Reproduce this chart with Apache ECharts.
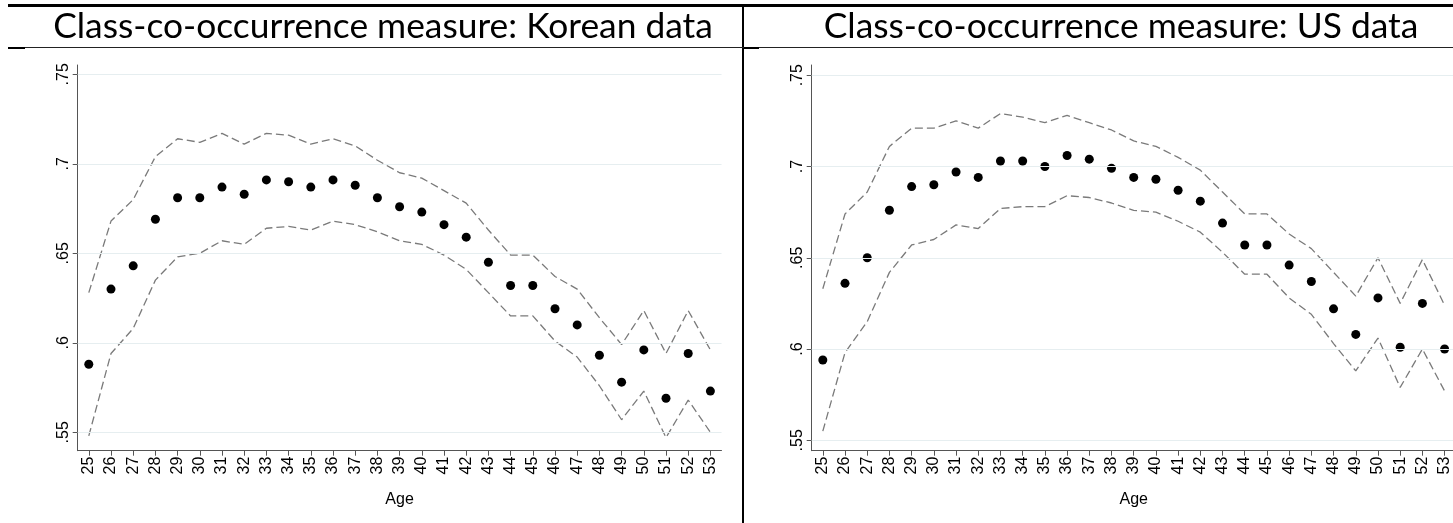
<!DOCTYPE html>
<html>
<head>
<meta charset="utf-8">
<script src="https://cdn.jsdelivr.net/npm/echarts@6/dist/echarts.min.js"></script>
<style>
html,body{margin:0;padding:0;background:#fff;}
#chart{width:1453px;height:523px;}
</style>
</head>
<body>
<div id="chart"></div>
<script>
// ---- data ----
const ages = ['25','26','27','28','29','30','31','32','33','34','35','36','37','38','39','40','41','42','43','44','45','46','47','48','49','50','51','52','53'];

const krEst   = [0.588,0.630,0.643,0.669,0.681,0.681,0.687,0.683,0.691,0.690,0.687,0.691,0.688,0.681,0.676,0.673,0.666,0.659,0.645,0.632,0.632,0.619,0.610,0.593,0.578,0.596,0.569,0.594,0.573];
const krUpper = [0.628,0.668,0.680,0.704,0.714,0.712,0.717,0.711,0.717,0.716,0.711,0.714,0.710,0.702,0.695,0.692,0.685,0.678,0.663,0.649,0.649,0.637,0.630,0.614,0.599,0.618,0.594,0.618,0.596];
const krLower = [0.548,0.594,0.608,0.635,0.648,0.650,0.657,0.655,0.664,0.665,0.663,0.668,0.666,0.662,0.657,0.655,0.649,0.641,0.628,0.615,0.615,0.601,0.592,0.576,0.557,0.573,0.547,0.568,0.550];

const usEst   = [0.594,0.636,0.650,0.676,0.689,0.690,0.697,0.694,0.703,0.703,0.700,0.706,0.704,0.699,0.694,0.693,0.687,0.681,0.669,0.657,0.657,0.646,0.637,0.622,0.608,0.628,0.601,0.625,0.600];
const usUpper = [0.633,0.674,0.686,0.711,0.721,0.721,0.725,0.721,0.729,0.727,0.724,0.728,0.724,0.720,0.714,0.711,0.705,0.698,0.686,0.674,0.674,0.663,0.655,0.642,0.629,0.650,0.625,0.649,0.624];
const usLower = [0.555,0.598,0.615,0.642,0.657,0.660,0.668,0.666,0.677,0.678,0.678,0.684,0.683,0.680,0.676,0.675,0.670,0.664,0.653,0.641,0.641,0.628,0.619,0.603,0.588,0.606,0.579,0.600,0.577];

const yTicks = [0.55,0.60,0.65,0.70,0.75];
const yTickLabels = ['.55','.6','.65','.7','.75'];

const titleLeft = 'Class-co-occurrence measure: Korean data';
const titleRight = 'Class-co-occurrence measure: US data';
const xName = 'Age';

// ---- styling helpers ----
const TITLE_FONT = 'Lato';
function fitFont(text, targetW){
  const c = document.createElement('canvas').getContext('2d');
  c.font = '30px ' + TITLE_FONT;
  const w = c.measureText(text).width;
  return 30 * targetW / w;
}
const titleSize = fitFont(titleLeft, 660);

const axisColor = '#555';
const labelColor = '#000';
const gridColor = '#e6eef0';
const ciColor = '#7a7a7a';

function yLabel(v){
  for (let i=0;i<yTicks.length;i++){ if (Math.abs(v-yTicks[i])<1e-6) return yTickLabels[i]; }
  return '';
}

function makeXAxis(gridIndex, gap){
  return {
    type:'category', gridIndex, data: ages, boundaryGap:true,
    axisLine:{show:true, lineStyle:{color:axisColor, width:1}},
    axisTick:{show:true, alignWithLabel:true, interval:0, length:5, lineStyle:{color:axisColor}},
    axisLabel:{interval:0, rotate:90, margin:6, color:labelColor, fontSize:16, fontFamily:'Liberation Sans'},
    splitLine:{show:false},
    name:xName, nameLocation:'middle', nameGap:gap,
    nameTextStyle:{color:labelColor, fontSize:16, fontFamily:'Liberation Sans'}
  };
}
function makeYAxis(gridIndex, mn, mx){
  return {
    type:'value', gridIndex, min:mn, max:mx,
    axisLine:{show:true, lineStyle:{color:axisColor, width:1}},
    axisTick:{show:true, length:5, customValues:yTicks, lineStyle:{color:axisColor}},
    axisLabel:{customValues:yTicks, rotate:90, margin:6, color:labelColor, fontSize:16, fontFamily:'Liberation Sans', formatter:yLabel},
    splitLine:{show:false}
  };
}
function gridLines(){
  return {
    silent:true, symbol:'none', label:{show:false},
    lineStyle:{color:gridColor, width:1.2, type:'solid'},
    data: yTicks.map(v=>({yAxis:v}))
  };
}
function ciLine(data, idx, withGrid){
  const s = {
    type:'line', data, xAxisIndex:idx, yAxisIndex:idx, showSymbol:false, symbol:'none',
    lineStyle:{color:ciColor, width:1.3, type:[8,4]}, z:2, silent:true, animation:false
  };
  if (withGrid) s.markLine = gridLines();
  return s;
}
function pts(data, idx){
  return {type:'scatter', data, xAxisIndex:idx, yAxisIndex:idx, symbol:'circle', symbolSize:9,
    itemStyle:{color:'#000', opacity:1}, z:3, animation:false};
}

const chart = echarts.init(document.getElementById('chart'), null, {renderer:'canvas'});
chart.setOption({
  animation:false,
  backgroundColor:'#fff',
  grid:[
    {left:77.7, top:65, width:643.8, height:385.7, containLabel:false, outerBoundsMode:'none'},
    {left:811.7, top:65, width:644, height:385.7, containLabel:false, outerBoundsMode:'none'}
  ],
  xAxis:[makeXAxis(0,41), makeXAxis(1,41)],
  yAxis:[makeYAxis(0,0.5397,0.7552), makeYAxis(1,0.5443,0.7556)],
  series:[
    ciLine(krUpper,0,true), ciLine(krLower,0,false), pts(krEst,0),
    ciLine(usUpper,1,true), ciLine(usLower,1,false), pts(usEst,1)
  ],
  graphic:[
    {type:'rect', shape:{x:8, y:4, width:1445, height:3}, style:{fill:'#000'}, silent:true},
    {type:'rect', shape:{x:742, y:4, width:2, height:519}, style:{fill:'#000'}, silent:true},
    {type:'rect', shape:{x:8, y:47, width:1445, height:1}, style:{fill:'#222'}, silent:true},
    {type:'rect', shape:{x:8, y:47, width:17, height:2}, style:{fill:'#000'}, silent:true},
    {type:'rect', shape:{x:744, y:47, width:15, height:2}, style:{fill:'#000'}, silent:true},
    {type:'text', x:383, y:27, style:{text:titleLeft, font: titleSize.toFixed(2)+'px '+TITLE_FONT, fill:'#000', align:'center', verticalAlign:'middle'}, silent:true},
    {type:'text', x:1121, y:27, style:{text:titleRight, font: titleSize.toFixed(2)+'px '+TITLE_FONT, fill:'#000', align:'center', verticalAlign:'middle'}, silent:true}
  ]
});
</script>
</body>
</html>
